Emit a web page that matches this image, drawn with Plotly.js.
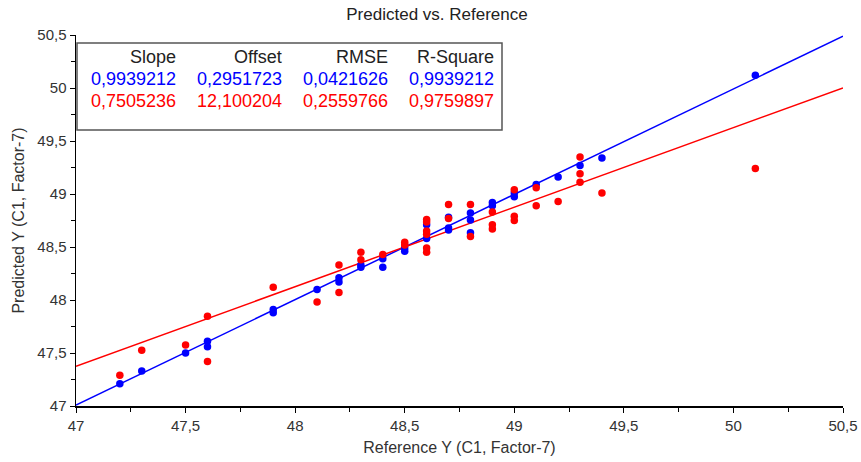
<!DOCTYPE html>
<html>
<head>
<meta charset="utf-8">
<script src="https://cdn.plot.ly/plotly-3.0.1.min.js"></script>
<style>html,body{margin:0;padding:0;background:#fff;}#chart{width:861px;height:462px;}</style>
</head>
<body>
<div id="chart"></div>
<script>
// Calibration (blue) points
const blueX = [47.2, 47.3, 47.5, 47.6, 47.6, 47.9, 47.9, 48.1, 48.2, 48.2, 48.3, 48.3, 48.4, 48.4, 48.5, 48.5, 48.6, 48.6, 48.7, 48.7, 48.7, 48.8, 48.8, 48.8, 48.9, 48.9, 49.0, 49.0, 49.1, 49.2, 49.3, 49.4, 50.1];
const blueY = [47.21, 47.33, 47.50, 47.61, 47.56, 47.91, 47.88, 48.10, 48.21, 48.17, 48.33, 48.31, 48.39, 48.31, 48.49, 48.46, 48.71, 48.58, 48.78, 48.68, 48.66, 48.82, 48.755, 48.635, 48.92, 48.89, 49.01, 48.975, 49.09, 49.16, 49.27, 49.34, 50.12];
// Validation (red) points
const redX = [47.2, 47.3, 47.5, 47.6, 47.6, 47.9, 48.1, 48.2, 48.2, 48.3, 48.3, 48.4, 48.5, 48.5, 48.6, 48.6, 48.6, 48.6, 48.6, 48.6, 48.7, 48.7, 48.8, 48.8, 48.9, 48.9, 48.9, 49.0, 49.0, 49.0, 49.1, 49.1, 49.2, 49.3, 49.3, 49.3, 49.4, 50.1];
const redY = [47.29, 47.525, 47.575, 47.846, 47.42, 48.12, 47.98, 48.33, 48.07, 48.45, 48.38, 48.43, 48.545, 48.52, 48.76, 48.735, 48.65, 48.62, 48.49, 48.45, 48.90, 48.77, 48.90, 48.60, 48.83, 48.71, 48.67, 49.04, 48.79, 48.75, 49.06, 48.89, 48.93, 49.35, 49.19, 49.11, 49.01, 49.24];

// Regression statistics
const statHeaders = ["Slope", "Offset", "RMSE", "R-Square"];
const blueStats = ["0,9939212", "0,2951723", "0,0421626", "0,9939212"];
const redStats = ["0,7505236", "12,100204", "0,2559766", "0,9759897"];
const blueSlope = 0.9939212, blueOffset = 0.2951723;
const redSlope = 0.7505236, redOffset = 12.100204;

// Axis ticks
const tickVals = [47, 47.5, 48, 48.5, 49, 49.5, 50, 50.5];
const tickLabels = ["47", "47,5", "48", "48,5", "49", "49,5", "50", "50,5"];
const axisRange = [47, 50.5];

const FONT = "Liberation Sans, Arial, sans-serif";
const BLUE = "#0000ff", RED = "#ff0000";

const fitX = [axisRange[0], axisRange[1]];
const traces = [
  {x: fitX, y: fitX.map(v => blueSlope * v + blueOffset), mode: "lines", line: {color: BLUE, width: 1.5}, hoverinfo: "skip"},
  {x: fitX, y: fitX.map(v => redSlope * v + redOffset), mode: "lines", line: {color: RED, width: 1.5}, hoverinfo: "skip"},
  {x: blueX, y: blueY, mode: "markers", marker: {color: BLUE, size: 7.5}},
  {x: redX, y: redY, mode: "markers", marker: {color: RED, size: 7.5}}
];

const L = 76, R = 18, T = 35, B = 56, W = 861, H = 462;
const pw = W - L - R, ph = H - T - B;
const px = v => (v - L) / pw;
const py = v => (H - B - v) / ph;

const colRight = [178, 284, 390, 496];
const rowY = [57, 79, 100.5];
const annotations = [];
const rows = [[statHeaders, "#222"], [blueStats, BLUE], [redStats, RED]];
rows.forEach((r, i) => {
  r[0].forEach((t, j) => {
    annotations.push({text: t, xref: "paper", yref: "paper", x: px(colRight[j]), y: py(rowY[i]),
      xanchor: "right", yanchor: "middle", showarrow: false, font: {family: FONT, size: 18, color: r[1]}});
  });
});

const axisCommon = {
  range: axisRange, tickvals: tickVals, ticktext: tickLabels, showgrid: false, zeroline: false,
  showline: true, linecolor: "#000", linewidth: 1.5, ticks: "outside", ticklen: 5, tickwidth: 1, tickcolor: "#000",
  minor: {ticks: "outside", dtick: 0.25, ticklen: 4, tickwidth: 1, tickcolor: "#000"},
  tickfont: {family: FONT, size: 15, color: "#333"}
};

const layout = {
  width: W, height: H, margin: {l: L, r: R, t: T, b: B},
  paper_bgcolor: "#fff", plot_bgcolor: "#fff", showlegend: false,
  title: {text: "Predicted vs. Reference", x: 437 / W, xanchor: "center", y: 1 - 14 / H, yanchor: "middle",
    font: {family: FONT, size: 17, color: "#222"}},
  xaxis: Object.assign({}, axisCommon, {title: {text: "Reference Y (C1, Factor-7)", standoff: 9, font: {family: FONT, size: 16, color: "#333"}}}),
  yaxis: Object.assign({}, axisCommon, {title: {text: "Predicted Y (C1, Factor-7)", standoff: 8, font: {family: FONT, size: 16, color: "#333"}}}),
  shapes: [{type: "rect", xref: "paper", yref: "paper", x0: px(77), x1: px(502), y0: py(130), y1: py(43),
    line: {color: "#555", width: 1.5}, fillcolor: "rgba(0,0,0,0)", layer: "above"}],
  annotations: annotations
};

Plotly.newPlot("chart", traces, layout, {displayModeBar: false, staticPlot: true});
</script>
</body>
</html>
